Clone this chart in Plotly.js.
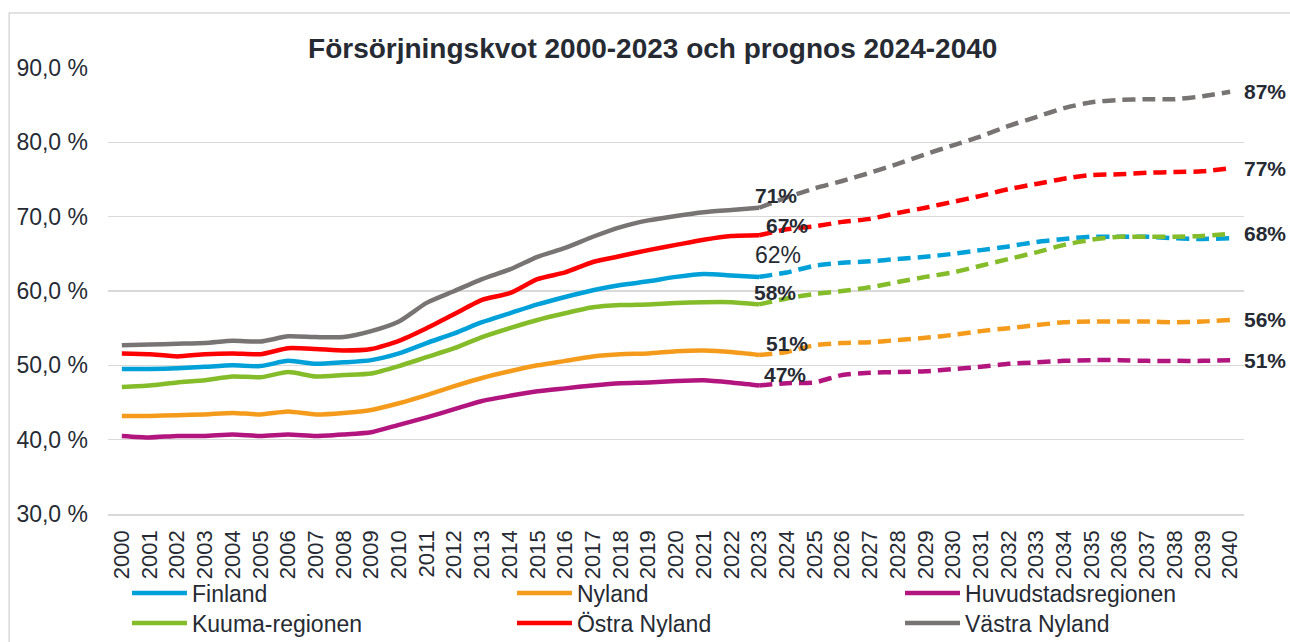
<!DOCTYPE html>
<html><head><meta charset="utf-8">
<script src="https://cdn.plot.ly/plotly-3.0.1.min.js"></script>
<style>html,body{margin:0;padding:0;background:#fff}#chart{width:1290px;height:642px}</style>
</head><body><div id="chart"></div>
<script>
const years = [];
for (let y = 2000; y <= 2040; y++) years.push(String(y));
const histYears = years.slice(0, 24);      // 2000-2023
const progYears = years.slice(23);         // 2023-2040

const seriesNames = ["Finland", "Nyland", "Huvudstadsregionen", "Kuuma-regionen", "Östra Nyland", "Västra Nyland"];
const seriesColors = ["#00A0D8", "#F59B1C", "#B3157F", "#84BC2A", "#FF0000", "#797474"];

// Historic values 2000-2023 (%)
const finlandHist = [49.5,49.5,49.6,49.8,50.0,49.9,50.6,50.2,50.4,50.7,51.6,53.0,54.3,55.8,57.0,58.2,59.2,60.1,60.8,61.3,61.9,62.3,62.1,61.9];
const nylandHist = [43.2,43.2,43.3,43.4,43.6,43.4,43.8,43.4,43.6,44.0,44.9,46.0,47.2,48.3,49.2,50.0,50.6,51.2,51.5,51.6,51.9,52.0,51.8,51.4];
const huvudHist = [40.5,40.3,40.5,40.5,40.7,40.5,40.7,40.5,40.7,41.0,42.0,43.0,44.1,45.2,45.9,46.5,46.9,47.3,47.6,47.7,47.9,48.0,47.7,47.3];
const kuumaHist = [47.1,47.3,47.7,48.0,48.5,48.4,49.1,48.5,48.7,48.9,49.9,51.1,52.3,53.8,55.0,56.1,57.0,57.8,58.1,58.2,58.4,58.5,58.5,58.2];
const ostraHist = [51.6,51.5,51.2,51.5,51.6,51.5,52.3,52.2,52.0,52.2,53.3,55.0,56.9,58.8,59.7,61.6,62.5,63.9,64.7,65.5,66.2,66.9,67.4,67.5];
const vastraHist = [52.7,52.8,52.9,53.0,53.3,53.2,53.9,53.8,53.8,54.6,55.9,58.4,60.0,61.6,62.9,64.6,65.8,67.3,68.6,69.5,70.1,70.6,70.9,71.2];

// Forecast values 2023-2040 (%)
const finlandProg = [61.9,62.5,63.4,63.8,64.0,64.3,64.6,65.0,65.5,66.0,66.6,67.0,67.3,67.3,67.3,67.1,67.0,67.1];
const nylandProg = [51.4,51.8,52.7,53.0,53.1,53.4,53.7,54.1,54.6,55.0,55.4,55.8,55.9,55.9,55.9,55.8,55.9,56.1];
const huvudProg = [47.3,47.6,47.7,48.7,49.0,49.1,49.2,49.5,49.8,50.2,50.4,50.6,50.7,50.7,50.6,50.6,50.6,50.7];
const kuumaProg = [58.2,59.0,59.6,60.0,60.5,61.2,61.9,62.5,63.4,64.3,65.2,66.2,66.9,67.3,67.3,67.3,67.4,67.7];
const ostraProg = [67.5,68.3,68.7,69.3,69.7,70.5,71.2,72.0,72.8,73.7,74.4,75.1,75.6,75.7,75.9,76.0,76.1,76.5];
const vastraProg = [71.2,72.6,73.8,74.8,75.9,77.1,78.4,79.6,80.8,82.2,83.4,84.6,85.4,85.7,85.8,85.8,86.2,86.8];

const histData = [finlandHist, nylandHist, huvudHist, kuumaHist, ostraHist, vastraHist];
const progData = [finlandProg, nylandProg, huvudProg, kuumaProg, ostraProg, vastraProg];

// Labels at 2023 and 2040
const label2023 = ["62%", "51%", "47%", "58%", "67%", "71%"];
const label2040 = ["", "56%", "51%", "68%", "77%", "87%"];

const yTickVals = [30, 40, 50, 60, 70, 80, 90];
const yTickText = ["30,0 %", "40,0 %", "50,0 %", "60,0 %", "70,0 %", "80,0 %", "90,0 %"];

const FONT = "Liberation Sans, Arial, sans-serif";
const TXT = "#262b33";
// one legend box per series: 3 columns x 2 rows
const legendIds = ["legend", "legend2", "legend3", "legend4", "legend5", "legend6"];
const legendCols = [0.0167, 0.3556, 0.6972];
const legendRows = [(642 - 593) / 574, (642 - 623) / 574];

const traces = [];
seriesNames.forEach((name, i) => {
  traces.push({
    x: histYears, y: histData[i], name: name, type: "scatter", mode: "lines",
    line: {color: seriesColors[i], width: 4.5, shape: "spline", smoothing: 0.6},
    legend: legendIds[i], legendgroup: name, hoverinfo: "x+y+name"
  });
});
seriesNames.forEach((name, i) => {
  traces.push({
    x: progYears, y: progData[i], name: name, type: "scatter", mode: "lines",
    line: {color: seriesColors[i], width: 4.5, dash: "13px,7px", shape: "spline", smoothing: 0.6},
    legend: legendIds[i], legendgroup: name, showlegend: false, hoverinfo: "x+y+name"
  });
});

// annotation offsets (styling only): xshift, yshift, bold, size
const off2023 = [[19, 22, false, 23], [28, 11, true, 21], [26, 11, true, 21], [16, 12, true, 21], [28, 10, true, 21], [17, 12, true, 21]];
const annotations = [];
seriesNames.forEach((name, i) => {
  const o = off2023[i];
  annotations.push({
    xref: "x", yref: "y", x: 23, y: histData[i][23],
    text: o[2] ? "<b>" + label2023[i] + "</b>" : label2023[i],
    showarrow: false, xshift: o[0], yshift: o[1],
    font: {family: FONT, size: o[3], color: TXT}
  });
  if (label2040[i]) {
    const last = progData[i][progData[i].length - 1];
    annotations.push({
      xref: "x", yref: "y", x: 40, y: last, text: "<b>" + label2040[i] + "</b>", showarrow: false,
      xanchor: "left", xshift: 12, yshift: 0,
      font: {family: FONT, size: 21, color: TXT}
    });
  }
});

const layout = {
  width: 1290, height: 642,
  margin: {l: 108, r: 46, t: 68, b: 0, autoexpand: false},
  paper_bgcolor: "#fff", plot_bgcolor: "#fff",
  font: {family: FONT, color: TXT},
  title: {text: "<b>Försörjningskvot 2000-2023 och prognos 2024-2040</b>",
          font: {family: FONT, size: 28, color: TXT}, x: 0.506, xanchor: "center", y: 0.925, yanchor: "middle"},
  xaxis: {type: "category", range: [-0.5, 40.5], tickangle: -90, showgrid: false,
          showline: true, linecolor: "#d9d9d9", linewidth: 1.5, ticks: "", automargin: false,
          ticklabelstandoff: 6,
          tickfont: {family: FONT, size: 22, color: TXT}, fixedrange: true},
  yaxis: {range: [30, 90], domain: [128 / 574, 1], tickvals: yTickVals, ticktext: yTickText, showgrid: true,
          gridcolor: "#d9d9d9", gridwidth: 1.5, zeroline: false, ticks: "", automargin: false,
          ticklabelstandoff: 19,
          tickfont: {family: FONT, size: 23, color: TXT}, fixedrange: true},
  showlegend: true,
  annotations: annotations,
  shapes: [{type: "rect", xref: "paper", yref: "paper", x0: -0.087, x1: 1.2, y0: -0.5, y1: 1.0958,
            line: {color: "#d9d9d9", width: 1.5}, fillcolor: "rgba(0,0,0,0)", layer: "below"}]
};
legendIds.forEach((id, i) => {
  layout[id] = {orientation: "v", xanchor: "left", yanchor: "middle",
    x: legendCols[i % 3], y: legendRows[Math.floor(i / 3)],
    font: {family: FONT, size: 23, color: TXT}, itemwidth: 55,
    bgcolor: "rgba(0,0,0,0)"};
});

Plotly.newPlot("chart", traces, layout, {displayModeBar: false, staticPlot: true});
</script>
</body></html>
